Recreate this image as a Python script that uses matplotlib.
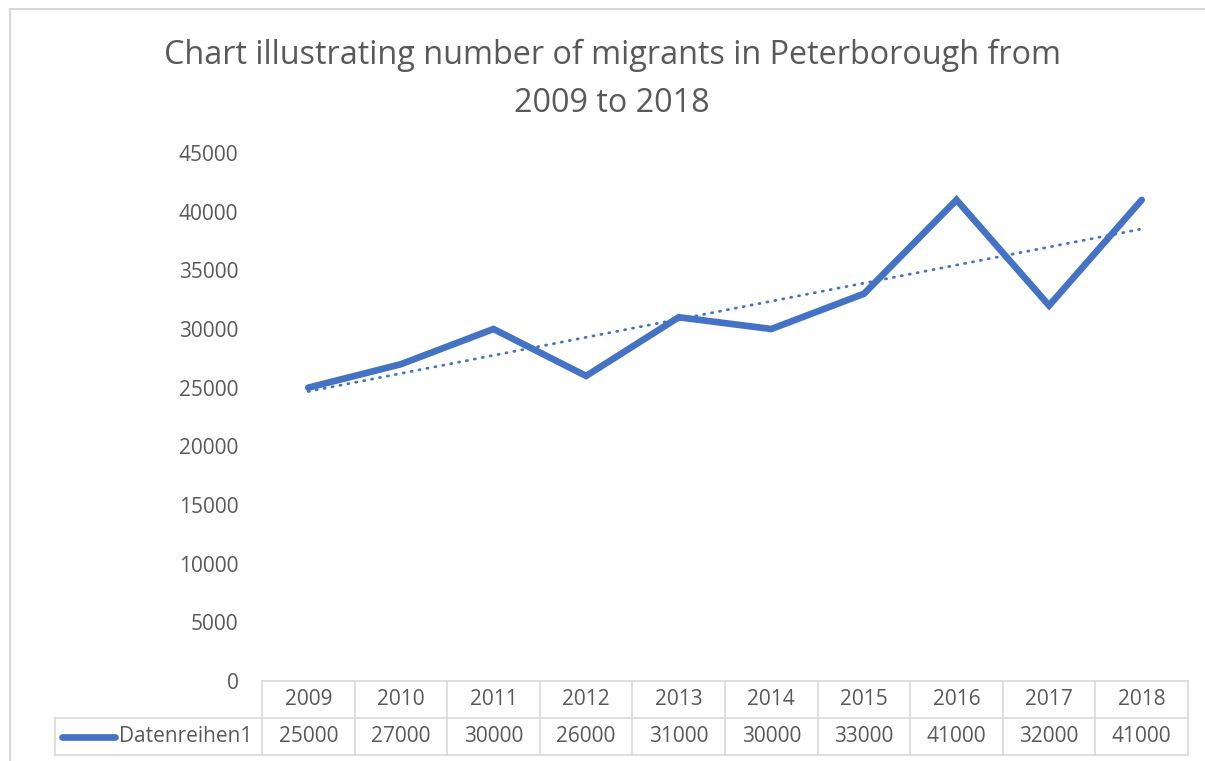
import matplotlib.pyplot as plt
import matplotlib.transforms as mtransforms
import numpy as np

plt.rcParams['font.family'] = ['Open Sans', 'DejaVu Sans']

years = ['2009', '2010', '2011', '2012', '2013', '2014', '2015', '2016', '2017', '2018']
migrants = [25000, 27000, 30000, 26000, 31000, 30000, 33000, 41000, 32000, 41000]
series_name = 'Datenreihen1'
title = 'Chart illustrating number of migrants in Peterborough from\n2009 to 2018'

blue = '#4472C4'
grey_text = '#595959'
grid_grey = '#D9D9D9'
fs = 15

W, H = 1205, 761
fig = plt.figure(figsize=(W / 100, H / 100), dpi=100)

# outer chart border (cropped at right/bottom)
fig.add_artist(plt.Rectangle((10 / W, -0.1), 1.2, (H - 9) / H + 0.1, transform=fig.transFigure,
                             fill=False, edgecolor=grid_grey, linewidth=1.5))

# plot area in pixels
left, right, bottom, top = 262, 1188, 681, 153
ax = fig.add_axes([left / W, (H - bottom) / H, (right - left) / W, (bottom - top) / H])

x = np.arange(len(years))
ax.plot(x, migrants, color=blue, linewidth=4.8, solid_capstyle='round', solid_joinstyle='miter', zorder=3)

# linear trendline
k, b = np.polyfit(x, migrants, 1)
ax.plot(x, k * x + b, color=blue, linewidth=2.0, linestyle=(0, (0.4, 2.5)), dash_capstyle='round', zorder=2)

ax.set_xlim(-0.5, len(years) - 0.5)
ax.set_ylim(0, 45000)
ax.set_yticks(np.arange(0, 45001, 5000))
ax.set_yticklabels([str(v) for v in range(0, 45001, 5000)])
ax.tick_params(axis='y', length=0, pad=17, labelsize=fs, labelcolor=grey_text)
ax.set_xticks([])
for s in ['top', 'right', 'left', 'bottom']:
    ax.spines[s].set_visible(False)

# data table below plot
row_h = 37 / (bottom - top)
trans = mtransforms.blended_transform_factory(ax.transData, ax.transAxes)
legend_left = -0.5 - (left - 55) / ((right - left) / len(years))
lw = 1.2
kw = dict(transform=trans, clip_on=False, color=grid_grey, linewidth=lw)
ax.plot([-0.5, len(years) - 0.5], [0, 0], **kw)
ax.plot([legend_left, len(years) - 0.5], [-row_h, -row_h], **kw)
ax.plot([legend_left, len(years) - 0.5], [-2 * row_h, -2 * row_h], **kw)
for xi in np.arange(-0.5, len(years), 1.0):
    ax.plot([xi, xi], [0, -2 * row_h], **kw)
ax.plot([legend_left, legend_left], [-row_h, -2 * row_h], **kw)

for i, (yr, v) in enumerate(zip(years, migrants)):
    ax.text(i, -row_h / 2, yr, transform=trans, ha='center', va='center',
            fontsize=fs, color=grey_text)
    ax.text(i, -1.5 * row_h, str(v), transform=trans, ha='center', va='center',
            fontsize=fs, color=grey_text)

ax.plot([legend_left + 0.08, legend_left + 0.65], [-1.5 * row_h, -1.5 * row_h], transform=trans,
        clip_on=False, color=blue, linewidth=4.8, solid_capstyle='round')
ax.text(legend_left + 0.69, -1.5 * row_h, series_name, transform=trans, ha='left', va='center',
        fontsize=fs, color=grey_text)

fig.text(612 / W, 1 - 79 / H, title, ha='center', va='center', fontsize=23.3,
         color=grey_text, linespacing=1.6)

fig.savefig('out.png', dpi=100)
